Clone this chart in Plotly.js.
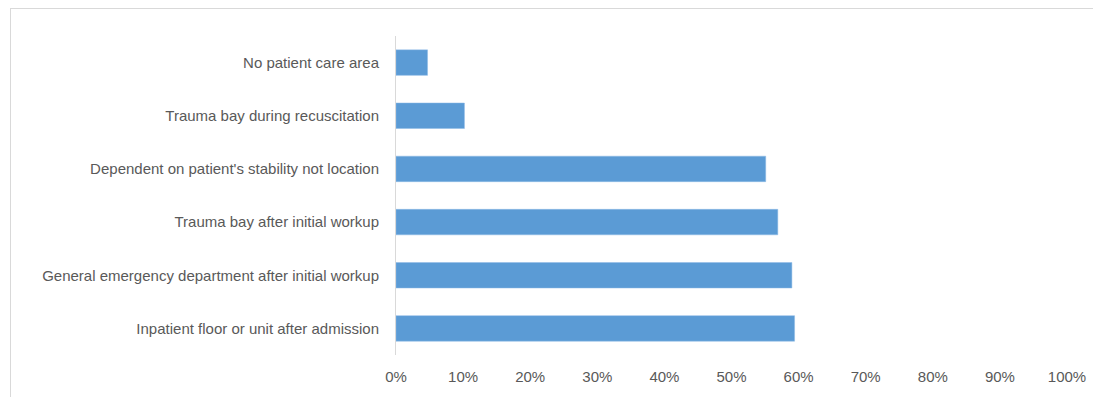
<!DOCTYPE html>
<html>
<head>
<meta charset="utf-8">
<script src="https://cdn.plot.ly/plotly-3.0.1.min.js"></script>
<style>
  html, body { margin: 0; padding: 0; background: #fff; }
  #wrap { position: relative; width: 1093px; height: 397px; overflow: hidden; }
  #chart { position: absolute; left: 0; top: 0; width: 1093px; height: 397px; }
  #frame { position: absolute; left: 10px; top: 8px; width: 1100px; height: 400px;
           border: 1px solid #d9d9d9; box-sizing: border-box; pointer-events: none; }
</style>
</head>
<body>
<div id="wrap">
  <div id="chart"></div>
  <div id="frame"></div>
</div>
<script>
const categories = [
  "No patient care area",
  "Trauma bay during recuscitation",
  "Dependent on patient's stability not location",
  "Trauma bay after initial workup",
  "General emergency department after initial workup",
  "Inpatient floor or unit after admission"
];
const percentValues = [4.7, 10.2, 55.1, 56.9, 59.0, 59.4];
const xTickValues = [0, 10, 20, 30, 40, 50, 60, 70, 80, 90, 100];
const xTickLabels = ["0%", "10%", "20%", "30%", "40%", "50%", "60%", "70%", "80%", "90%", "100%"];

const trace = {
  type: 'bar',
  orientation: 'h',
  y: categories,
  x: percentValues,
  marker: { color: '#5b9bd5', line: { width: 0.5, color: '#8fbbe6' } },
  hoverinfo: 'x+y'
};

const layout = {
  width: 1093,
  height: 397,
  margin: { l: 396, r: 26, t: 36, b: 42, pad: 0 },
  paper_bgcolor: '#ffffff',
  plot_bgcolor: '#ffffff',
  bargap: 0.52,
  showlegend: false,
  font: { family: 'Liberation Sans, Arial, sans-serif', size: 15, color: '#595959' },
  xaxis: {
    range: [0, 100],
    tickmode: 'array',
    tickvals: xTickValues,
    ticktext: xTickLabels,
    showgrid: false,
    zeroline: false,
    showline: false,
    ticks: 'outside',
    ticklen: 8,
    tickcolor: 'rgba(0,0,0,0)',
    tickfont: { size: 15, color: '#595959' },
    fixedrange: true
  },
  yaxis: {
    autorange: 'reversed',
    showgrid: false,
    zeroline: false,
    showline: true,
    linecolor: '#d9d9d9',
    linewidth: 1,
    ticks: 'outside',
    ticklen: 13,
    tickcolor: 'rgba(0,0,0,0)',
    tickfont: { size: 15, color: '#595959' },
    fixedrange: true
  }
};

Plotly.newPlot('chart', [trace], layout, { displayModeBar: false, staticPlot: true });
</script>
</body>
</html>
